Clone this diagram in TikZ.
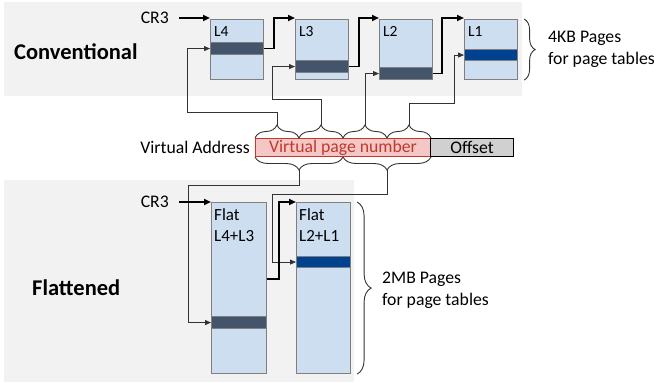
\documentclass[tikz,border=0pt]{standalone}
\usepackage{fontspec}
\setmainfont{Carlito}
\usetikzlibrary{arrows.meta,decorations.pathreplacing,calc}
\definecolor{bggray}{HTML}{F2F2F2}
\definecolor{boxfill}{HTML}{CCDEF0}
\definecolor{boxdraw}{HTML}{7F7F7F}
\definecolor{darkband}{HTML}{44546A}
\definecolor{blueband}{HTML}{00428F}
\definecolor{vpnfill}{HTML}{F4C6C6}
\definecolor{vpndraw}{HTML}{C0392B}
\definecolor{offfill}{HTML}{D0D0D0}
\begin{document}
\begin{tikzpicture}[x=1pt,y=-1pt,
  pagebox/.style={draw=boxdraw, fill=boxfill, line width=1.1pt, inner sep=0pt, anchor=north west, minimum width=53pt},
  darkstrip/.style={draw=boxdraw, fill=darkband, line width=1.1pt, inner sep=0pt, anchor=north west, minimum width=53pt},
  bluestrip/.style={draw=boxdraw, fill=blueband, line width=1.1pt, inner sep=0pt, anchor=north west, minimum width=53pt},
  boxlabel/.style={inner sep=0pt, anchor=north west, font=\fontsize{15.5}{18}\selectfont},
  flatlabel/.style={inner sep=0pt, anchor=north west, align=left, font=\fontsize{17}{21.7}\selectfont},
  plaintext/.style={inner sep=0pt, font=\fontsize{17.7}{22}\selectfont},
  titletext/.style={inner sep=0pt, anchor=west, font=\fontsize{22.5}{27}\selectfont\bfseries},
  thickarrow/.style={line width=1.8pt, -{Triangle[length=7pt,width=6pt]}},
  thinarrow/.style={draw=black!80, line width=0.8pt, -{Triangle[length=6pt,width=5pt]}},
  bracestyle/.style={draw=black!80, line width=0.9pt, decorate, decoration={brace, amplitude=13pt}},
  sidebrace/.style={draw=black!80, line width=0.9pt, decorate, decoration={brace, amplitude=11pt}}
]
\useasboundingbox (0,0) rectangle (657,383);
% backgrounds
\fill[bggray] (4,2) rectangle (522,96);
\fill[bggray] (4,180) rectangle (354,382);

% titles
\node[titletext] (conv) at (14,52) {Conventional};
\node[titletext] (flat) at (32,288) {Flattened};

% conventional boxes
\node[pagebox, minimum height=60pt] (L4) at (210,19) {};
\node[pagebox, minimum height=60pt] (L3) at (295,19) {};
\node[pagebox, minimum height=60pt] (L2) at (379,19) {};
\node[pagebox, minimum height=60pt] (L1) at (464,19) {};
\node[darkstrip, minimum height=12pt] (L4b) at (210,42) {};
\node[darkstrip, minimum height=12pt] (L3b) at (295,60) {};
\node[darkstrip, minimum height=12pt] (L2b) at (379,67) {};
\node[bluestrip, minimum height=11pt] (L1b) at (464,49) {};
\node[boxlabel] (L4t) at (214,26) {L4};
\node[boxlabel] (L3t) at (299,26) {L3};
\node[boxlabel] (L2t) at (383,26) {L2};
\node[boxlabel] (L1t) at (468,26) {L1};

% flattened boxes
\node[pagebox, minimum width=55pt, minimum height=171pt] (F1) at (211,202) {};
\node[pagebox, minimum width=54pt, minimum height=171pt] (F2) at (296,202) {};
\node[darkstrip, minimum width=55pt, minimum height=12pt] (F1b) at (211,316) {};
\node[bluestrip, minimum width=54pt, minimum height=11pt] (F2b) at (296,256) {};
\node[flatlabel] (F1t) at (214,208) {Flat\\L4+L3};
\node[flatlabel] (F2t) at (299,208) {Flat\\L2+L1};

% virtual address
\node[draw=vpndraw, fill=vpnfill, line width=1pt, inner sep=0pt, anchor=north west,
      minimum width=175pt, minimum height=18pt, text=vpndraw,
      font=\fontsize{17.7}{22}\selectfont] (vpn) at (255,138) {Virtual page number};
\node[draw=black, fill=offfill, line width=1pt, inner sep=0pt, anchor=north west,
      minimum width=83pt, minimum height=18pt,
      font=\fontsize{17.7}{22}\selectfont] (off) at (430,138) {Offset};
\node[plaintext, anchor=east] (va) at (250,147) {Virtual Address};

% brace coordinates
\coordinate (q0) at (vpn.north west);
\coordinate (q4) at (vpn.north east);
\coordinate (q1) at ($(q0)!0.25!(q4)$);
\coordinate (q2) at ($(q0)!0.5!(q4)$);
\coordinate (q3) at ($(q0)!0.75!(q4)$);
\coordinate (p0) at (vpn.south west);
\coordinate (p4) at (vpn.south east);
\coordinate (p2) at ($(p0)!0.5!(p4)$);

\draw[bracestyle] (q0) -- (q1);
\draw[bracestyle] (q1) -- (q2);
\draw[bracestyle] (q2) -- (q3);
\draw[bracestyle] (q3) -- (q4);
\draw[bracestyle] (p2) -- (p0);
\draw[bracestyle] (p4) -- (p2);

\coordinate (t1) at ($(q0)!0.5!(q1)+(0,-13)$);
\coordinate (t2) at ($(q1)!0.5!(q2)+(0,-13)$);
\coordinate (t3) at ($(q2)!0.5!(q3)+(0,-13)$);
\coordinate (t4) at ($(q3)!0.5!(q4)+(0,-13)$);
\coordinate (b1) at ($(p0)!0.5!(p2)+(0,13)$);
\coordinate (b2) at ($(p2)!0.5!(p4)+(0,13)$);

% thin connectors
\draw[thinarrow] (t1) -- ++(0,-13) -| ($(L4b.west)+(-23,0)$) -- (L4b.west);
\draw[thinarrow] (t2) -- ++(0,-26) -| ($(L3b.west)+(-23,0)$) -- (L3b.west);
\draw[thinarrow] (t3) |- (L2b.west);
\draw[thinarrow] (t4) -- ++(0,-22) -| ($(L1b.west)+(-10,0)$) -- (L1b.west);
\draw[thinarrow] (b1) -- ++(0,15) -| ($(F1b.west)+(-23,0)$) -- (F1b.west);
\draw[thinarrow] (b2) -- ++(0,24) -| ($(F2b.west)+(-24,0)$) -- (F2b.west);

% CR3 and thick connectors
\node[plaintext, anchor=east] (cr3u) at (169,18) {CR3};
\node[plaintext, anchor=east] (cr3l) at (169,202) {CR3};
\draw[thickarrow, shorten <=10pt] (cr3u.east) -- (cr3u.east -| L4.west);
\draw[thickarrow] (L4b.east) -- ++(10,0) |- (cr3u.east -| L3.west);
\draw[thickarrow] (L3b.east) -- ++(10,0) |- (cr3u.east -| L2.west);
\draw[thickarrow] (L2b.east) -- ++(9,0) |- (cr3u.east -| L1.west);
\draw[thickarrow, shorten <=10pt] (cr3l.east) -- (cr3l.east -| F1.west);
\draw[thickarrow] ($(F1.north east)+(0,77)$) -- ++(12,0) |- (cr3l.east -| F2.west);

% side braces
\draw[sidebrace] ($(L1.north east)+(6,0)$) -- ($(L1.south east)+(6,0)$);
\draw[sidebrace, decoration={amplitude=14pt}] ($(F2.north east)+(6,0)$) -- ($(F2.south east)+(6,0)$);
\node[plaintext, anchor=west, align=left] (kb) at (548,49) {4KB Pages\\for page tables};
\node[plaintext, anchor=west, align=left] (mb) at (382,290) {2MB Pages\\for page tables};
\end{tikzpicture}
\end{document}
